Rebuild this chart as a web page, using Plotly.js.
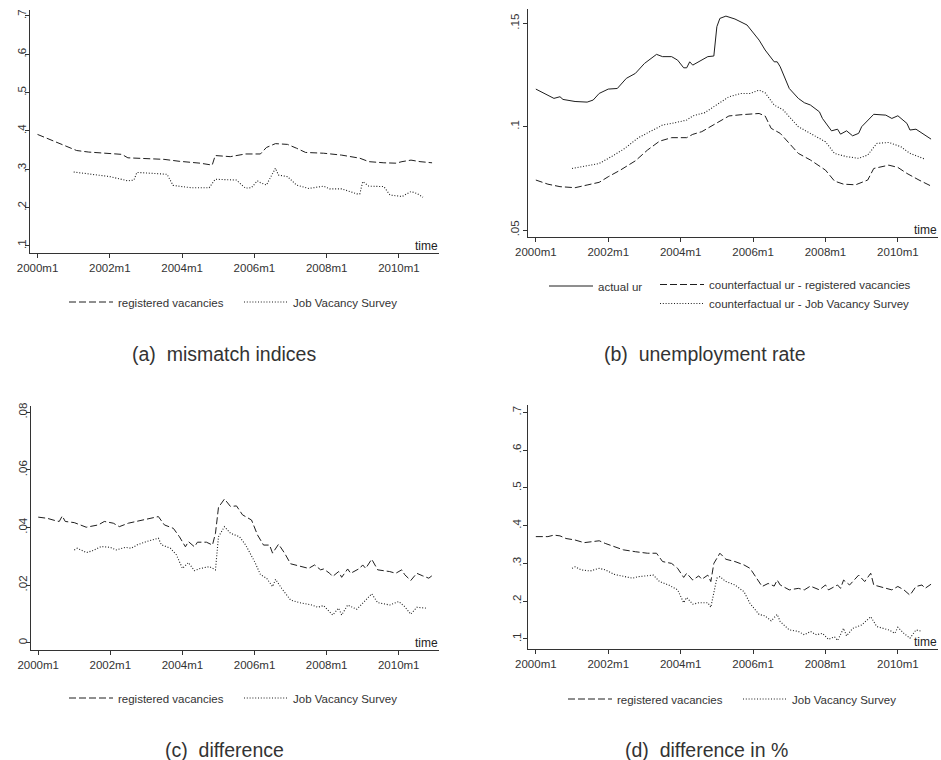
<!DOCTYPE html>
<html><head><meta charset="utf-8">
<script src="https://cdn.plot.ly/plotly-3.0.1.min.js"></script>
<style>html,body{margin:0;padding:0;background:#fff}</style>
</head><body><div id="chart" style="width:941px;height:760px"></div>
<script>
// month index: 0 = 2000m1
const xTickVals = [0,24,48,72,96,120];
const xTickText = ["2000m1","2002m1","2004m1","2006m1","2008m1","2010m1"];

// (a) mismatch indices
const mismRegM = [0,4,8,13,17,23,28,30,35,42,47,54,58,59,64,69,74,76,79,83,86,89,95,101,107,110,115,119,121,124,127,131];
const mismRegV = [.391,.378,.364,.349,.345,.342,.339,.330,.329,.326,.321,.316,.311,.336,.333,.340,.340,.357,.367,.365,.355,.344,.342,.337,.329,.320,.317,.316,.320,.324,.320,.317];
const mismJvsM = [12,17,24,30,32,33,37,43,45,51,57,59,66,69,71,73,74,76,79,80,83,86,90,95,97,101,106,107,108,110,115,117,121,124,126,128];
const mismJvsV = [.293,.288,.281,.270,.272,.292,.290,.287,.258,.252,.252,.274,.272,.251,.252,.270,.265,.259,.303,.285,.281,.259,.250,.256,.249,.249,.236,.236,.268,.256,.255,.233,.229,.242,.237,.227];

// (b) unemployment rate
const urActM = [0,3,6,8,9,13,17,19,21,24,27,30,33,36,40,42,45,47,49,50,51,52,55,57,59,60,61,63,66,70,74,76,79,80,81,84,87,89,91,94,95,98,100,101,103,105,107,108,112,116,118,120,123,124,126,128,131];
const urActV = [.1182,.1161,.1137,.1145,.1132,.1122,.1119,.1129,.1161,.1182,.1185,.1234,.1258,.1306,.1350,.1339,.1339,.1322,.1285,.1285,.1314,.1298,.1322,.1339,.1342,.1484,.1524,.1535,.1521,.1492,.1419,.1371,.1314,.1314,.1290,.1185,.1137,.1116,.1105,.1072,.1040,.0980,.0988,.0964,.0980,.0956,.0968,.1000,.1060,.1056,.1040,.1053,.1016,.0984,.0988,.0968,.0940];
const urRegM = [0,4,8,13,17,21,24,28,33,37,41,45,50,52,55,59,64,68,74,76,78,81,84,87,91,96,99,102,106,110,112,117,120,123,127,131];
const urRegV = [.0742,.0722,.0710,.0705,.0718,.0731,.0758,.0790,.0835,.0887,.0930,.0947,.0947,.0963,.0976,.1008,.1052,.1058,.1064,.1052,.0992,.0968,.0919,.0871,.0839,.0790,.0737,.0722,.0719,.0742,.0798,.0814,.0803,.0774,.0742,.0713];
const urJvsM = [12,16,21,25,29,34,39,42,46,50,52,56,59,64,68,71,74,76,79,82,87,91,96,99,103,107,110,113,117,121,124,129];
const urJvsV = [.0798,.0810,.0822,.0855,.0890,.0947,.0987,.1008,.1019,.1032,.1052,.1068,.1097,.1145,.1161,.1161,.1177,.1164,.1105,.1081,.1000,.0968,.0927,.0871,.0855,.0847,.0863,.0919,.0924,.0903,.0871,.0843];

// (c) difference
const diffRegM = [0,3,6,7,8,9,12,16,20,22,25,27,30,34,37,40,42,45,47,49,50,52,53,56,58,59,60,62,64,66,68,71,73,75,77,78,80,82,84,87,90,92,94,95,97,98,100,101,103,104,107,108,109,111,113,117,119,121,122,124,126,128,130,131];
const diffRegV = [.0436,.0432,.0423,.0421,.0440,.0421,.0417,.0401,.0409,.0421,.0415,.0403,.0415,.0424,.0432,.0438,.0409,.0397,.0368,.0333,.0351,.0333,.0349,.0349,.0339,.0380,.0470,.0499,.0473,.0475,.0444,.0426,.0374,.0339,.0339,.0311,.0342,.0311,.0274,.0267,.0258,.0270,.0253,.0256,.0241,.0230,.0247,.0227,.0256,.0241,.0258,.0270,.0258,.0290,.0253,.0247,.0241,.0253,.0236,.0216,.0241,.0232,.0224,.0232];
const diffJvsM = [12,13,16,18,21,24,26,29,31,33,36,40,41,44,46,48,50,52,54,57,59,60,62,64,67,69,72,74,76,78,79,81,84,87,91,93,95,98,100,101,103,106,108,111,113,117,120,122,124,126,129];
const diffJvsV = [.0322,.0328,.0313,.0319,.0334,.0331,.0322,.0331,.0328,.0340,.0351,.0363,.0340,.0328,.0305,.0258,.0278,.0250,.0258,.0264,.0253,.0368,.0403,.0380,.0368,.0340,.0282,.0236,.0224,.0195,.0220,.0189,.0148,.0139,.0131,.0123,.0129,.0096,.0120,.0096,.0131,.0116,.0137,.0170,.0139,.0131,.0143,.0125,.0099,.0123,.0120];

// (d) difference in %
const pctRegM = [0,4,6,8,10,13,16,19,21,23,26,29,33,37,40,42,45,47,49,50,52,54,55,57,58,59,61,63,66,69,71,74,75,77,79,80,81,84,87,89,91,94,96,97,100,101,102,104,106,107,109,111,112,116,118,120,122,124,126,128,129,131];
const pctRegV = [.371,.371,.375,.373,.366,.362,.355,.358,.360,.353,.344,.336,.331,.327,.327,.305,.300,.287,.263,.274,.256,.267,.258,.269,.252,.300,.327,.311,.305,.296,.287,.252,.239,.247,.240,.256,.243,.230,.234,.230,.240,.230,.243,.230,.243,.234,.256,.243,.261,.269,.252,.274,.243,.234,.230,.239,.230,.216,.239,.243,.234,.245];
const pctJvsM = [12,13,15,18,21,23,26,29,32,34,37,39,41,44,47,49,50,52,54,57,58,60,61,63,66,69,71,74,76,78,80,81,84,87,89,91,93,95,97,99,100,102,103,105,108,111,113,117,119,120,122,124,126,128];
const pctJvsV = [.287,.291,.283,.280,.287,.283,.271,.267,.261,.265,.267,.269,.252,.243,.230,.196,.210,.192,.196,.196,.184,.261,.265,.252,.243,.225,.194,.165,.161,.148,.165,.146,.124,.120,.111,.120,.111,.115,.099,.106,.096,.128,.108,.128,.137,.159,.133,.124,.115,.131,.115,.102,.124,.120];

const yTicksA = [.1,.2,.3,.4,.5,.6,.7], yTextA = [".1",".2",".3",".4",".5",".6",".7"];
const yTicksB = [.05,.1,.15], yTextB = [".05",".1",".15"];
const yTicksC = [0,.02,.04,.06,.08], yTextC = ["0",".02",".04",".06",".08"];

const W = 941, H = 760;
const FONT = "Liberation Sans, Arial, Helvetica, sans-serif";
const LC = "#1e1e1e";
const DASH = "7px,3px", DOT = "1px,1.8px";

function tr(x, y, name, dash, xa, ya, leg) {
  return {x: x, y: y, name: name, type: "scatter", mode: "lines", xaxis: xa, yaxis: ya, legend: leg,
    line: {color: LC, width: dash === DOT ? 1.1 : 1, dash: dash}, hoverinfo: "skip"};
}
const data = [
  tr(mismRegM, mismRegV, "registered vacancies", DASH, "x", "y", "legend"),
  tr(mismJvsM, mismJvsV, "Job Vacancy Survey", DOT, "x", "y", "legend"),
  tr(urActM, urActV, "actual ur", "solid", "x2", "y2", "legend2"),
  tr(urRegM, urRegV, "counterfactual ur - registered vacancies", DASH, "x2", "y2", "legend3"),
  tr(urJvsM, urJvsV, "counterfactual ur - Job Vacancy Survey", DOT, "x2", "y2", "legend3"),
  tr(diffRegM, diffRegV, "registered vacancies", DASH, "x3", "y3", "legend4"),
  tr(diffJvsM, diffJvsV, "Job Vacancy Survey", DOT, "x3", "y3", "legend4"),
  tr(pctRegM, pctRegV, "registered vacancies", DASH, "x4", "y4", "legend5"),
  tr(pctJvsM, pctJvsV, "Job Vacancy Survey", DOT, "x4", "y4", "legend5")
];

function px(v) { return v / W; }
function py(v) { return 1 - v / H; }
const tickFont = {family: FONT, size: 11.5, color: "#333"};
function xax(l, r, anchor) {
  return {domain: [px(l), px(r)], range: [-2.5, 133.3], anchor: anchor, tickvals: xTickVals, ticktext: xTickText,
    showline: true, linecolor: "#333", linewidth: 1, ticks: "outside", ticklen: 4, tickcolor: "#333",
    showgrid: false, zeroline: false, tickfont: tickFont, fixedrange: true};
}
function yax(top, bot, range, vals, text, anchor, standoff) {
  return {domain: [py(bot), py(top)], range: range, anchor: anchor, tickvals: vals, ticktext: text, tickangle: -90,
    showline: true, linecolor: "#333", linewidth: 1, ticks: "outside", ticklen: 4, tickcolor: "#333",
    ticklabelstandoff: standoff,
    showgrid: false, zeroline: false, tickfont: tickFont, fixedrange: true};
}
function leg(x, y, orient) {
  return {x: px(x), y: py(y), xanchor: "left", yanchor: "middle", orientation: orient, bgcolor: "rgba(0,0,0,0)",
    itemwidth: 44, entrywidth: 116,
    font: {family: FONT, size: 11.5, color: "#333"}, traceorder: "normal", itemclick: false, itemdoubleclick: false};
}
function cap(x, y, t) {
  return {xref: "paper", yref: "paper", x: px(x), y: py(y), text: t, showarrow: false, xanchor: "center", yanchor: "middle",
    font: {family: FONT, size: 19.5, color: "#333"}};
}
function timeLab(n) {
  const s = n === 1 ? "" : String(n);
  return {xref: "x" + s + " domain", yref: "y" + s + " domain", x: 1, y: 0, xanchor: "right", yanchor: "bottom",
    text: "time", showarrow: false, font: {family: FONT, size: 12, color: "#222"}, xshift: 1, yshift: -2};
}

const layout = {
  width: W, height: H, margin: {l: 0, r: 0, t: 0, b: 0}, paper_bgcolor: "#fff", plot_bgcolor: "#fff",
  font: {family: FONT},
  xaxis: xax(30, 439, "y"), yaxis: yax(10, 253, [0.0817, 0.7156], yTicksA, yTextA, "x", -6),
  xaxis2: xax(528.3, 938, "y2"), yaxis2: yax(9.3, 237.3, [0.0465, 0.1568], yTicksB, yTextB, "x2", 0),
  xaxis3: xax(30.7, 438.7, "y3"), yaxis3: yax(406, 650, [-0.00254, 0.0822], yTicksC, yTextC, "x3", -6),
  xaxis4: xax(528.3, 938, "y4"), yaxis4: yax(405, 649.3, [0.0727, 0.7194], yTicksA, yTextA, "x4", -2),
  legend: leg(64, 302, "h"),
  legend2: leg(544, 286, "h"),
  legend3: leg(655, 294, "v"),
  legend4: leg(64, 698, "h"),
  legend5: leg(563, 699, "h"),
  showlegend: true,
  annotations: [
    cap(224, 354, "(a)  mismatch indices"),
    cap(705, 354, "(b)  unemployment rate"),
    cap(224, 750, "(c)  difference"),
    cap(706, 750, "(d)  difference in %"),
    timeLab(1), timeLab(2), timeLab(3), timeLab(4)
  ]
};
Plotly.newPlot("chart", data, layout, {staticPlot: true, displayModeBar: false});
</script>
</body></html>
